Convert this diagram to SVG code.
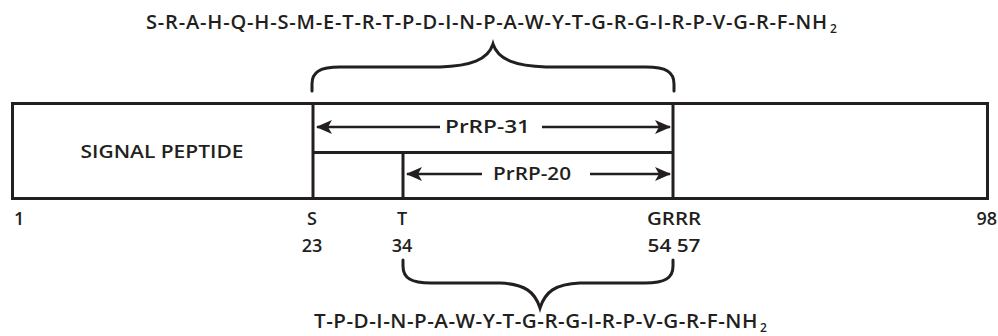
<svg xmlns="http://www.w3.org/2000/svg" width="998" height="336" viewBox="0 0 998 336">
<defs>
<marker id="ah" markerUnits="userSpaceOnUse" markerWidth="16" markerHeight="16" viewBox="0 0 16 16" refX="15" refY="8" orient="auto-start-reverse">
<path d="M0,1 L16,8 L0,15 L4,8 Z" fill="#231f20"/>
</marker>
<style>
.ln{fill:none;stroke:#231f20;stroke-width:3}
.ar{fill:none;stroke:#231f20;stroke-width:2.5}
.br{fill:none;stroke:#231f20;stroke-width:3;stroke-linecap:round}
text{font-family:"Open Sans","Liberation Sans",sans-serif;font-weight:600;fill:#231f20}
.lb{font-size:18px}
.seq{font-size:20px;letter-spacing:0.8px}
.seqb{font-size:20px;letter-spacing:0.5px}
.sub{font-size:12px;letter-spacing:0}
</style>
</defs>
<rect width="998" height="336" fill="#fff"/>
<g id="top-sequence">
<text class="seq" y="29"><tspan x="146" textLength="682" lengthAdjust="spacingAndGlyphs">S-R-A-H-Q-H-S-M-E-T-R-T-P-D-I-N-P-A-W-Y-T-G-R-G-I-R-P-V-G-R-F-NH</tspan><tspan class="sub" x="830" y="33">2</tspan></text>
</g>
<g id="top-brace">
<path class="br" d="M312,91 L312,84 C312,72 320,67 340,67 L440,67 C470,66 488,60 493,44 C498,60 516,66 546,67 L646,67 C666,67 674,72 674,84 L674,91"/>
</g>
<g id="precursor">
<rect class="ln" x="12.5" y="103.5" width="975" height="95"/>
<line class="ln" x1="313" y1="103" x2="313" y2="199"/>
<line class="ln" x1="673" y1="103" x2="673" y2="199"/>
<line class="ln" x1="313" y1="152.5" x2="673" y2="152.5"/>
<line class="ln" x1="403" y1="152" x2="403" y2="199"/>
</g>
<g id="signal-peptide">
<text class="lb" x="162" y="158" text-anchor="middle" textLength="163" lengthAdjust="spacingAndGlyphs">SIGNAL PEPTIDE</text>
</g>
<g id="prrp31">
<text class="lb" x="445" y="133" textLength="85" lengthAdjust="spacingAndGlyphs">PrRP-31</text>
</g>
<g id="prrp20">
<text class="lb" x="493" y="180" textLength="78" lengthAdjust="spacingAndGlyphs">PrRP-20</text>
</g>
<g id="connectors">
<line class="ar" x1="440" y1="127" x2="317" y2="127" marker-end="url(#ah)"/>
<line class="ar" x1="542" y1="127" x2="670" y2="127" marker-end="url(#ah)"/>
<line class="ar" x1="482" y1="174" x2="407" y2="174" marker-end="url(#ah)"/>
<line class="ar" x1="590" y1="174" x2="670" y2="174" marker-end="url(#ah)"/>
</g>
<g id="positions">
<text class="lb" x="14" y="225">1</text>
<text class="lb" x="312" y="225" text-anchor="middle">S</text>
<text class="lb" x="402" y="225" text-anchor="middle">T</text>
<text class="lb" x="674" y="225" text-anchor="middle" textLength="54" lengthAdjust="spacingAndGlyphs">GRRR</text>
<text class="lb" x="997" y="225" text-anchor="end">98</text>
<text class="lb" x="312" y="252" text-anchor="middle">23</text>
<text class="lb" x="402" y="252" text-anchor="middle">34</text>
<text class="lb" x="674" y="252" text-anchor="middle" textLength="53" lengthAdjust="spacingAndGlyphs">54 57</text>
</g>
<g id="bottom-brace">
<path class="br" d="M403,260 L403,266 C403,278 411,283 431,283 L500,283 C525,284 535,292 540,308 C545,292 555,284 580,283 L645,283 C665,283 673,278 673,266 L673,260"/>
</g>
<g id="bottom-sequence">
<text class="seqb" y="328"><tspan x="314" textLength="444" lengthAdjust="spacingAndGlyphs">T-P-D-I-N-P-A-W-Y-T-G-R-G-I-R-P-V-G-R-F-NH</tspan><tspan class="sub" x="760" y="332">2</tspan></text>
</g>
</svg>
